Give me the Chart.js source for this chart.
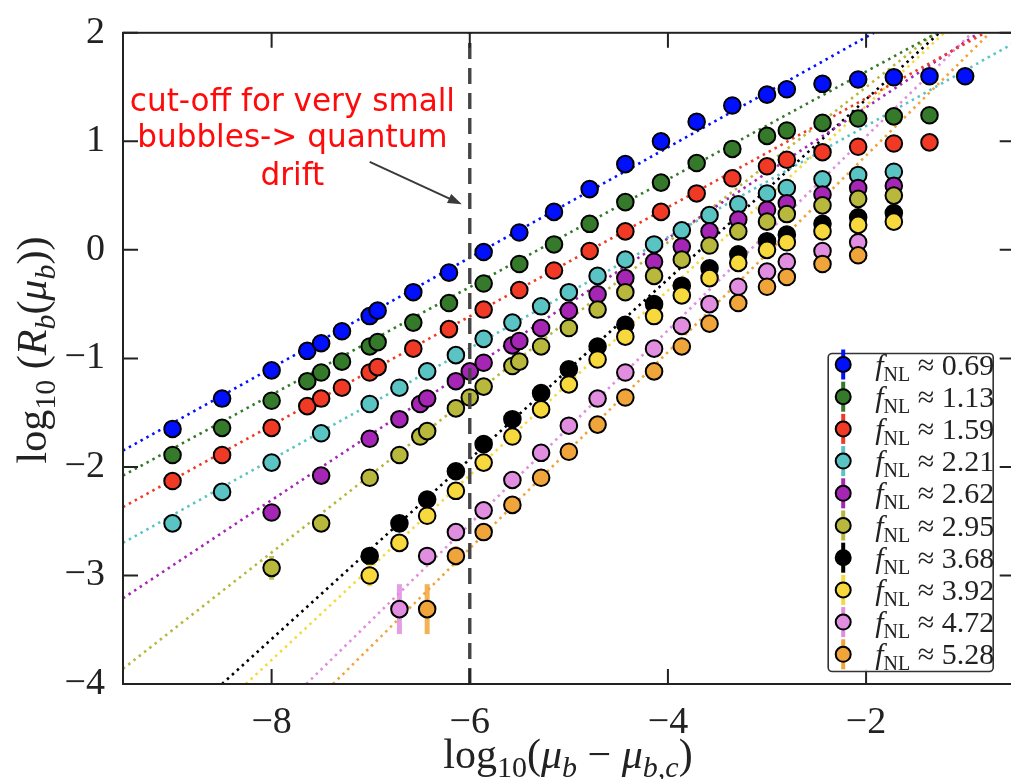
<!DOCTYPE html>
<html>
<head>
<meta charset="utf-8">
<script src="https://cdn.jsdelivr.net/npm/chart.js@4.4.0/dist/chart.umd.min.js"></script>
<style>
  html, body { margin: 0; padding: 0; background: #fff; overflow: hidden; }
  #wrap { width: 1030px; height: 779px; }
</style>
</head>
<body>
<div id="wrap"><canvas id="c" width="1030" height="779"></canvas></div>
<script>
// values
const fnlLabels = ['0.69', '1.13', '1.59', '2.21', '2.62', '2.95', '3.68', '3.92', '4.72', '5.28'];
const colors = ['#0010ff', '#347a2a', '#f03a25', '#5ac4c4', '#a526b5',
                '#b7b83c', '#000000', '#f7d93e', '#e18de0', '#f0a53a'];

// x columns (log10(mu_b - mu_b,c)), shared by several series
const xA = [-9.00, -8.50, -8.00, -7.64, -7.50, -7.29, -7.01, -6.93, -6.57, -6.21, -5.86, -5.50, -5.15,
            -4.79, -4.43, -4.07, -3.71, -3.35, -3.00, -2.80, -2.44, -2.08, -1.72, -1.36, -1.00];
const xB = [-9.00, -8.50, -8.00, -7.50, -7.01, -6.71, -6.43, -6.14, -5.86, -5.57, -5.28, -5.00,
            -4.71, -4.43, -4.14, -3.86, -3.58, -3.29, -3.00, -2.80, -2.44, -2.08, -1.72];
const xC = [-8.00, -7.50, -7.01, -6.71, -6.50, -6.43, -6.14, -6.00, -5.86, -5.57, -5.50, -5.28,
            -5.00, -4.71, -4.43, -4.14, -3.86, -3.58, -3.29, -3.00, -2.80, -2.44, -2.08, -1.72];
const xD = [-7.01, -6.71, -6.43, -6.14, -5.86, -5.57, -5.28, -5.00, -4.71, -4.43, -4.14, -3.86,
            -3.58, -3.29, -3.00, -2.80, -2.44, -2.08, -1.72];
const xE = [-6.71, -6.43, -6.14, -5.86, -5.57, -5.28, -5.00, -4.71, -4.43, -4.14, -3.86, -3.58,
            -3.29, -3.00, -2.80, -2.44, -2.08];
const xF = [-6.43, -6.14, -5.86, -5.57, -5.28, -5.00, -4.71, -4.43, -4.14, -3.86, -3.58, -3.29,
            -3.00, -2.80, -2.44, -2.08];

// log10(R_b) per series
const yBlue   = [-1.65, -1.37, -1.11, -0.93, -0.86, -0.75, -0.61, -0.56, -0.39, -0.21, -0.02, 0.16, 0.35,
                 0.56, 0.79, 1.00, 1.18, 1.33, 1.43, 1.48, 1.53, 1.57, 1.59, 1.60, 1.60];
const yGreen  = [-1.89, -1.64, -1.39, -1.21, -1.13, -1.03, -0.89, -0.85, -0.67, -0.49, -0.31, -0.13, 0.05,
                 0.24, 0.44, 0.62, 0.80, 0.93, 1.05, 1.10, 1.17, 1.21, 1.23, 1.24];
const yRed    = [-2.13, -1.89, -1.64, -1.44, -1.37, -1.27, -1.13, -1.08, -0.91, -0.73, -0.55, -0.37, -0.19,
                 -0.01, 0.17, 0.35, 0.52, 0.66, 0.77, 0.83, 0.90, 0.95, 0.98, 0.99];
const yCyan   = [-2.52, -2.23, -1.96, -1.69, -1.42, -1.27, -1.12, -0.97, -0.82, -0.67, -0.52, -0.39,
                 -0.24, -0.09, 0.05, 0.18, 0.32, 0.42, 0.52, 0.57, 0.65, 0.69, 0.72];
const yPurple = [-2.42, -2.08, -1.74, -1.56, -1.42, -1.37, -1.21, -1.12, -1.04, -0.88, -0.84, -0.72,
                 -0.56, -0.41, -0.26, -0.11, 0.03, 0.17, 0.28, 0.37, 0.43, 0.51, 0.57, 0.59];
const yOlive  = [-2.93, -2.52, -2.10, -1.89, -1.72, -1.67, -1.46, -1.36, -1.26, -1.07, -1.03, -0.89,
                 -0.72, -0.55, -0.39, -0.24, -0.09, 0.04, 0.17, 0.26, 0.33, 0.41, 0.47, 0.50];
const yBlack  = [-2.82, -2.52, -2.30, -2.04, -1.79, -1.56, -1.32, -1.10, -0.89, -0.69, -0.50, -0.33,
                 -0.17, -0.04, 0.08, 0.14, 0.24, 0.30, 0.34];
const yYellow = [-3.00, -2.70, -2.45, -2.22, -1.96, -1.72, -1.47, -1.24, -1.01, -0.80, -0.61, -0.42,
                 -0.26, -0.12, 0.00, 0.07, 0.17, 0.23, 0.26];
const yPink   = [-3.31, -2.82, -2.60, -2.40, -2.12, -1.87, -1.62, -1.37, -1.13, -0.91, -0.70, -0.50,
                 -0.34, -0.20, -0.11, -0.01, 0.07];
const yOrange = [-3.31, -2.82, -2.60, -2.35, -2.10, -1.86, -1.61, -1.36, -1.12, -0.89, -0.68, -0.49,
                 -0.34, -0.25, -0.13, -0.05];

const seriesX = [xA, xA, xA, xB, xC, xC, xD, xD, xE, xF];
const seriesY = [yBlue, yGreen, yRed, yCyan, yPurple, yOlive, yBlack, yYellow, yPink, yOrange];

// vertical error bars (half-length), by point index, where visible
const yErr = [[], [], [], [], [], [0.11], [0.07], [0.10], [0.23, 0.08], [0.23, 0.09]];

// dotted fit lines: end points
const fitX0 = [-9.5, -9.5, -9.5, -9.5, -9.5, -9.5, -8.50, -8.26, -7.65, -7.38];
const fitY0 = [-1.85, -2.08, -2.37, -2.70, -3.21, -3.86, -4, -4, -4, -4];
const fitX1 = [-1.92, -1.28, -0.80, -0.5, -0.86, -1.30, -1.26, -1.21, -0.93, -0.75];
const fitY1 = [2, 2, 2, 1.91, 2, 2, 2, 2, 2, 2];

const xTicks = [-8, -6, -4, -2];
const yTicks = [-4, -3, -2, -1, 0, 1, 2];
const cutoffX = -6;
const noteLines = ['cut-off for very small', 'bubbles-> quantum', 'drift'];
const noteAnchor = { x: -7.79, y: [1.28, 0.95, 0.60] };
const arrowFrom = { x: -7.01, y: 0.81 };
const arrowTo = { x: -6.08, y: 0.42 };

const SERIF = "'Liberation Serif', 'DejaVu Serif', serif";
const fmt = v => (v < 0 ? '\u2212' : '') + Math.abs(v);

// ---- datasets ----
const datasets = [];
fnlLabels.forEach((lab, i) => {
  datasets.push({
    label: 'fit ' + lab,
    data: [{ x: fitX0[i], y: fitY0[i] }, { x: fitX1[i], y: fitY1[i] }],
    showLine: true,
    borderColor: colors[i],
    borderWidth: 2.6,
    borderDash: [2.5, 4.2],
    pointRadius: 0,
    order: 30
  });
});
fnlLabels.forEach((lab, i) => {
  datasets.push({
    label: 'f_NL ≈ ' + lab,
    data: seriesX[i].map((x, k) => ({ x: x, y: seriesY[i][k] })),
    backgroundColor: colors[i],
    borderColor: '#000',
    pointRadius: 8.3,
    pointBorderWidth: 2,
    order: 20 - i
  });
});
datasets.push({
  label: 'cut-off',
  data: [{ x: cutoffX, y: -4 }, { x: cutoffX, y: 2 }],
  showLine: true,
  borderColor: '#444',
  borderWidth: 3.4,
  borderDash: [16, 9],
  pointRadius: 0,
  order: 0
});

// ---- helpers ----
function richText(ctx, segs, size, subSize, subDrop) {
  // measure and return drawing function
  const font = s => (s.it ? 'italic ' : '') + (s.sub ? subSize : size) + 'px ' + SERIF;
  let w = 0;
  segs.forEach(s => { ctx.font = font(s); s.w = ctx.measureText(s.t).width; w += s.w; });
  return {
    width: w,
    draw(x, y) {
      let cx = x;
      segs.forEach(s => {
        ctx.font = font(s);
        ctx.fillText(s.t, cx, y + (s.sub ? subDrop : 0));
        cx += s.w;
      });
    }
  };
}

// error bars under each series' markers
const errorBarPlugin = {
  id: 'errorBars',
  beforeDatasetDraw(chart, args) {
    const s = args.index - fnlLabels.length;
    if (s < 0 || s >= fnlLabels.length || !yErr[s].length) return;
    const { ctx, scales: { x, y } } = chart;
    ctx.save();
    ctx.strokeStyle = colors[s];
    ctx.globalAlpha = 0.85;
    ctx.lineWidth = 5;
    yErr[s].forEach((e, k) => {
      const px = x.getPixelForValue(seriesX[s][k]);
      ctx.beginPath();
      ctx.moveTo(px, y.getPixelForValue(seriesY[s][k] - e));
      ctx.lineTo(px, y.getPixelForValue(seriesY[s][k] + e));
      ctx.stroke();
    });
    ctx.restore();
  }
};

// box frame and inward ticks on all four sides
const framePlugin = {
  id: 'frame',
  afterDatasetsDraw(chart) {
    const { ctx, chartArea: a, scales: { x, y } } = chart;
    const L = 15;
    ctx.save();
    ctx.strokeStyle = '#222';
    ctx.lineWidth = 2;
    ctx.strokeRect(a.left, a.top, a.right - a.left, a.bottom - a.top);
    ctx.beginPath();
    xTicks.forEach(v => {
      const px = x.getPixelForValue(v);
      ctx.moveTo(px, a.bottom); ctx.lineTo(px, a.bottom - L);
      ctx.moveTo(px, a.top); ctx.lineTo(px, a.top + L);
    });
    yTicks.forEach(v => {
      const py = y.getPixelForValue(v);
      ctx.moveTo(a.left, py); ctx.lineTo(a.left + L, py);
      ctx.moveTo(a.right, py); ctx.lineTo(a.right - L, py);
    });
    ctx.stroke();
    ctx.restore();
  }
};

// red note and arrow
const notePlugin = {
  id: 'note',
  afterDatasetsDraw(chart) {
    const { ctx, scales: { x, y } } = chart;
    ctx.save();
    // arrow
    const x0 = x.getPixelForValue(arrowFrom.x), y0 = y.getPixelForValue(arrowFrom.y);
    const x1 = x.getPixelForValue(arrowTo.x), y1 = y.getPixelForValue(arrowTo.y);
    const ang = Math.atan2(y1 - y0, x1 - x0);
    ctx.strokeStyle = '#3a3a3a';
    ctx.fillStyle = '#3a3a3a';
    ctx.lineWidth = 2;
    ctx.beginPath();
    ctx.moveTo(x0, y0);
    ctx.lineTo(x1 - 10 * Math.cos(ang), y1 - 10 * Math.sin(ang));
    ctx.stroke();
    ctx.beginPath();
    ctx.moveTo(x1, y1);
    ctx.lineTo(x1 - 14 * Math.cos(ang) + 5 * Math.sin(ang), y1 - 14 * Math.sin(ang) - 5 * Math.cos(ang));
    ctx.lineTo(x1 - 14 * Math.cos(ang) - 5 * Math.sin(ang), y1 - 14 * Math.sin(ang) + 5 * Math.cos(ang));
    ctx.closePath();
    ctx.fill();
    // text, sized so the first line spans ~325px
    const fam = "'Comic Sans MS', 'DejaVu Sans', sans-serif";
    ctx.font = '30px ' + fam;
    const size = 30 * 325 / ctx.measureText(noteLines[0]).width;
    ctx.font = size.toFixed(1) + 'px ' + fam;
    ctx.fillStyle = '#ff0a0a';
    ctx.textAlign = 'center';
    ctx.textBaseline = 'alphabetic';
    const cx = x.getPixelForValue(noteAnchor.x);
    noteLines.forEach((t, i) => ctx.fillText(t, cx, y.getPixelForValue(noteAnchor.y[i])));
    ctx.restore();
  }
};

// legend with error-bar style markers
const legendPlugin = {
  id: 'fnlLegend',
  afterDraw(chart) {
    const { ctx, chartArea: a } = chart;
    const right = a.right - 21.5, bottom = a.bottom - 12.5;
    const w = 165, h = 318, left = right - w, top = bottom - h;
    ctx.save();
    ctx.fillStyle = 'rgba(255,255,255,0.9)';
    ctx.strokeStyle = '#333';
    ctx.lineWidth = 1.6;
    ctx.beginPath();
    ctx.roundRect(left, top, w, h, 4);
    ctx.fill();
    ctx.stroke();
    ctx.textAlign = 'left';
    ctx.textBaseline = 'alphabetic';
    fnlLabels.forEach((lab, i) => {
      const cy = top + 11 + i * 32.2;
      const mx = left + 15;
      ctx.strokeStyle = colors[i];
      ctx.lineWidth = 4;
      ctx.beginPath();
      ctx.moveTo(mx, cy - 15); ctx.lineTo(mx, cy + 15);
      ctx.stroke();
      ctx.beginPath();
      ctx.arc(mx, cy, 7.5, 0, Math.PI * 2);
      ctx.fillStyle = colors[i];
      ctx.fill();
      ctx.strokeStyle = '#000';
      ctx.lineWidth = 2;
      ctx.stroke();
      ctx.fillStyle = '#222';
      const rt = richText(ctx, [
        { t: 'f', it: true }, { t: 'NL', sub: true }, { t: ' \u2248 ' }, { t: lab }
      ], 30, 20, 6);
      rt.draw(left + 47, cy + 10);
    });
    ctx.restore();
  }
};

// axis titles with subscripts
const titlePlugin = {
  id: 'axisTitles',
  afterDraw(chart) {
    const { ctx } = chart;
    ctx.save();
    ctx.fillStyle = '#222';
    ctx.textAlign = 'left';
    ctx.textBaseline = 'alphabetic';
    const xt = richText(ctx, [
      { t: 'log' }, { t: '10', sub: true }, { t: '(' }, { t: '\u03bc', it: true }, { t: 'b', it: true, sub: true },
      { t: ' \u2212 ' }, { t: '\u03bc', it: true }, { t: 'b,c', it: true, sub: true }, { t: ')' }
    ], 42, 30, 9);
    xt.draw(568 - xt.width / 2, 768);
    const yt = richText(ctx, [
      { t: 'log' }, { t: '10', sub: true }, { t: ' (' }, { t: 'R', it: true }, { t: 'b', it: true, sub: true },
      { t: '(' }, { t: '\u03bc', it: true }, { t: 'b', it: true, sub: true }, { t: '))' }
    ], 42, 30, 9);
    ctx.translate(46, 350);
    ctx.rotate(-Math.PI / 2);
    yt.draw(-yt.width / 2, 0);
    ctx.restore();
  }
};

new Chart(document.getElementById('c'), {
  type: 'scatter',
  data: { datasets },
  options: {
    responsive: false,
    animation: false,
    events: [],
    layout: { padding: { top: 20.5, right: 15.3, left: 0, bottom: 0 } },
    plugins: { legend: { display: false }, tooltip: { enabled: false } },
    scales: {
      x: {
        type: 'linear', min: -9.5, max: -0.5,
        grid: { display: false }, border: { display: false },
        afterBuildTicks: s => { s.ticks = xTicks.map(v => ({ value: v })); },
        afterFit: s => { s.height = 95; },
        ticks: {
          callback: fmt, color: '#222', padding: 8, maxRotation: 0, autoSkip: false,
          font: { family: SERIF, size: 38 }
        }
      },
      y: {
        type: 'linear', min: -4, max: 2,
        grid: { display: false }, border: { display: false },
        afterBuildTicks: s => { s.ticks = yTicks.map(v => ({ value: v })); },
        afterFit: s => { s.width = 123; },
        ticks: {
          callback: fmt, color: '#222', padding: 10, autoSkip: false,
          font: { family: SERIF, size: 38 }
        }
      }
    }
  },
  plugins: [errorBarPlugin, framePlugin, notePlugin, legendPlugin, titlePlugin]
});
</script>
</body>
</html>
